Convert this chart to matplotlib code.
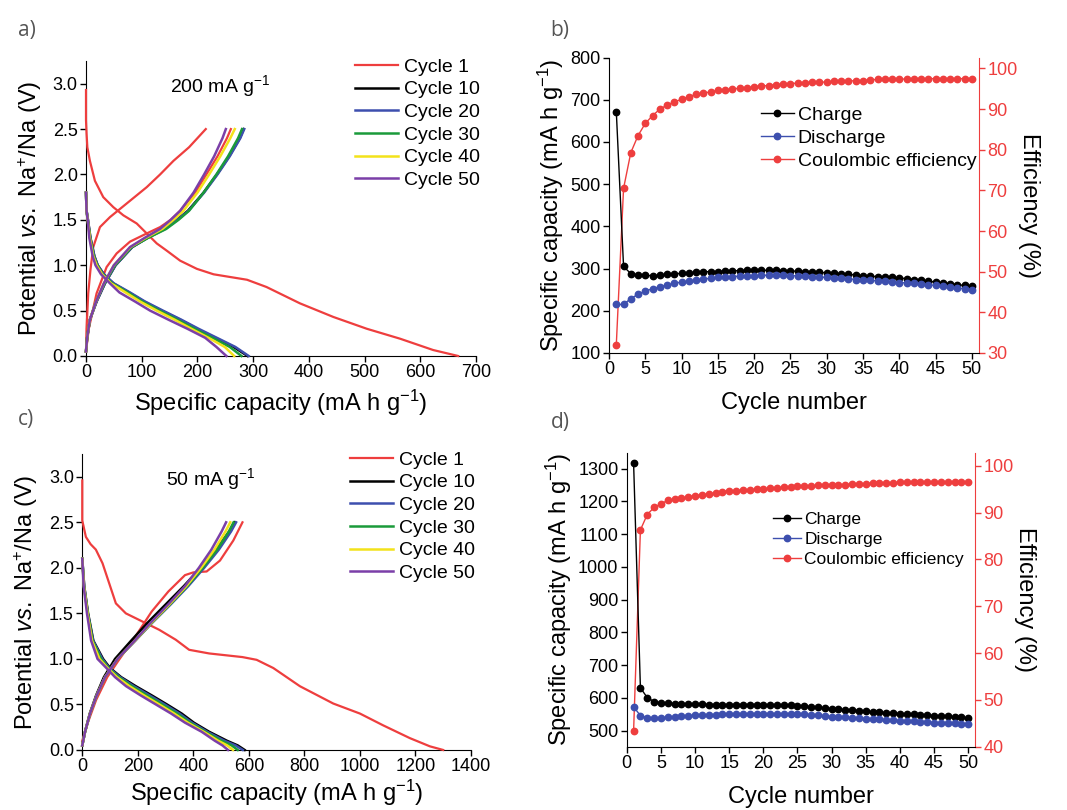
import matplotlib
matplotlib.use("Agg")
import matplotlib.pyplot as plt
import numpy as np

plt.rcParams["font.family"] = ["Liberation Sans", "DejaVu Sans"]
plt.rcParams["mathtext.fontset"] = "custom"
plt.rcParams["mathtext.rm"] = "Liberation Sans"
plt.rcParams["mathtext.it"] = "Liberation Sans:italic"

RED = "#ee3e3e"
COLORS = {10: "black", 20: "#3d4fae", 30: "#1a9a3a", 40: "#f3e21a", 50: "#7b3fa8"}
CYCLES = [10, 20, 30, 40, 50]

# ---------------- panel a, 200 mA g-1 ----------------
a_c1_dis_x = [0, 0, 1, 2.4, 7, 16, 31, 49, 67, 91, 109, 127, 145, 169, 199, 229, 289, 324, 384, 444, 504, 564, 623, 668]
a_c1_dis_y = [2.93, 2.6, 2.45, 2.3, 2.15, 1.93, 1.75, 1.64, 1.55, 1.46, 1.35, 1.24, 1.16, 1.05, 0.96, 0.9, 0.84, 0.76, 0.58, 0.43, 0.30, 0.19, 0.066, 0.0]
a_c1_ch_x = [0, 1, 4, 8, 13, 25, 43, 61, 85, 109, 133, 157, 185, 215]
a_c1_ch_y = [0.05, 0.3, 0.69, 0.95, 1.2, 1.42, 1.53, 1.62, 1.74, 1.86, 2.0, 2.15, 2.3, 2.5]
a_c2_ch_x = [0, 5, 19, 37, 55, 79, 109, 133, 152, 169, 196, 216, 236, 253, 260]
a_c2_ch_y = [0.05, 0.3, 0.69, 0.98, 1.13, 1.26, 1.35, 1.42, 1.5, 1.6, 1.8, 2.0, 2.2, 2.4, 2.5]

a_dis_v = [1.8, 1.6, 1.5, 1.3, 1.1, 1.0, 0.9, 0.8, 0.7, 0.6, 0.5, 0.4, 0.3, 0.2, 0.1, 0.0]
a_dis_cap = {
    10: [0, 1, 3.5, 8, 15, 21, 32, 49, 77, 104, 136, 169, 199, 232, 265, 290],
    20: [0, 1, 3.5, 8, 15, 21, 32, 50, 79, 106, 138, 171, 202, 235, 268, 292],
    30: [0, 1, 3, 7.5, 14, 20, 30, 47, 75, 101, 132, 164, 195, 227, 258, 279],
    40: [0, 1, 3, 7, 13, 19, 29, 45, 71, 97, 127, 159, 189, 220, 249, 266],
    50: [0, 1, 3, 6, 12, 17, 27, 43, 60, 88, 115, 148, 182, 214, 234, 252],
}
a_ch_v = [0.05, 0.2, 0.4, 0.6, 0.8, 1.0, 1.2, 1.3, 1.4, 1.5, 1.6, 1.8, 2.0, 2.2, 2.4, 2.5]
a_ch_cap = {
    10: [0, 2, 7, 19, 34, 53, 83, 110, 141, 163, 183, 211, 235, 257, 276, 283],
    20: [0, 2, 7, 19, 34, 53, 83, 110, 142, 164, 184, 212, 236, 258, 277, 284],
    30: [0, 2, 7, 18, 33, 52, 82, 111, 144, 166, 185, 211, 234, 255, 273, 280],
    40: [0, 2, 7, 18, 32, 50, 80, 107, 137, 157, 175, 200, 221, 241, 259, 267],
    50: [0, 2, 7, 18, 32, 50, 79, 105, 133, 152, 169, 193, 212, 230, 245, 251],
}

# ---------------- panel c, 50 mA g-1 ----------------
c_c1_dis_x = [0, 0, 13, 30, 49, 73, 97, 121, 157, 217, 277, 337, 385, 457, 577, 628, 688, 784, 904, 1000, 1084, 1180, 1252, 1300]
c_c1_dis_y = [2.96, 2.52, 2.34, 2.26, 2.2, 2.05, 1.83, 1.61, 1.5, 1.41, 1.32, 1.21, 1.1, 1.06, 1.02, 0.99, 0.9, 0.7, 0.51, 0.40, 0.27, 0.13, 0.04, 0.0]
c_c1_ch_x = [0, 20, 50, 90, 130, 190, 250, 310, 370, 400, 448, 496, 544, 577]
c_c1_ch_y = [0.1, 0.3, 0.55, 0.8, 0.98, 1.24, 1.52, 1.74, 1.92, 1.95, 1.96, 2.08, 2.3, 2.5]

c_dis_v = [2.1, 1.8, 1.5, 1.2, 1.0, 0.9, 0.8, 0.7, 0.6, 0.5, 0.4, 0.3, 0.2, 0.1, 0.05, 0.0]
c_dis_cap = {
    10: [0, 7, 21, 40, 75, 100, 140, 193, 250, 305, 358, 402, 457, 522, 560, 585],
    20: [0, 7, 20, 39, 72, 97, 136, 186, 242, 297, 350, 395, 450, 513, 552, 578],
    30: [0, 6, 20, 37, 68, 94, 131, 179, 233, 288, 342, 388, 443, 502, 538, 560],
    40: [0, 6, 19, 35, 62, 91, 125, 170, 222, 277, 331, 380, 437, 490, 522, 543],
    50: [0, 5, 17, 32, 55, 87, 118, 158, 210, 265, 320, 370, 430, 478, 505, 525],
}
c_ch_v = [0.05, 0.2, 0.4, 0.6, 0.8, 1.0, 1.2, 1.4, 1.6, 1.8, 2.0, 2.2, 2.4, 2.5]
c_ch_cap = {
    10: [0, 10, 27, 50, 78, 118, 176, 236, 301, 366, 426, 481, 530, 549],
    20: [0, 10, 28, 52, 82, 127, 191, 253, 319, 382, 439, 492, 536, 554],
    30: [0, 10, 28, 52, 82, 127, 190, 251, 316, 378, 434, 486, 528, 545],
    40: [0, 10, 28, 52, 82, 127, 190, 250, 314, 375, 428, 476, 516, 533],
    50: [0, 10, 28, 52, 82, 127, 189, 247, 310, 370, 420, 465, 502, 518],
}

# ---------------- panel b, cycling at 200 mA g-1 ----------------
cycle_no = list(range(1, 51))
b_charge = [672, 305, 288, 285, 284, 283, 284, 286, 287, 289, 290, 291, 292, 293, 293, 294, 295, 295, 296, 296,
            296, 296, 296, 295, 294, 294, 293, 292, 291, 290, 289, 288, 286, 285, 283, 282, 281, 280, 279, 278,
            276, 274, 272, 270, 268, 266, 264, 262, 260, 258]
b_discharge = [215, 215, 229, 239, 247, 252, 257, 261, 265, 268, 270, 273, 275, 277, 279, 280, 281, 282, 283, 283,
               284, 284, 284, 284, 283, 283, 282, 281, 280, 279, 278, 277, 276, 274, 273, 272, 271, 270, 269, 267,
               266, 265, 263, 262, 260, 258, 256, 254, 252, 250]
b_ce = [32.0, 70.5, 79.3, 83.5, 86.5, 88.4, 90.0, 91.0, 91.8, 92.4, 93.1, 93.6, 94.0, 94.2, 94.6, 94.7, 95.0, 95.1,
        95.2, 95.5, 95.7, 95.8, 96.0, 96.1, 96.3, 96.4, 96.5, 96.6, 96.6, 96.7, 96.8, 96.8, 96.9, 97.0, 97.0, 97.2,
        97.3, 97.3, 97.3, 97.4, 97.4, 97.4, 97.4, 97.5, 97.5, 97.5, 97.5, 97.5, 97.5, 97.5]

# ---------------- panel d, cycling at 50 mA g-1 ----------------
d_charge = [1318, 631, 601, 589, 585, 584, 583, 583, 582, 581, 581, 580, 580, 580, 580, 580, 580, 580, 580, 580,
            579, 579, 578, 577, 576, 575, 573, 571, 569, 567, 565, 564, 563, 561, 559, 558, 557, 555, 554, 552,
            551, 550, 549, 548, 546, 545, 544, 542, 541, 539]
d_discharge = [573, 546, 540, 538, 540, 541, 543, 545, 546, 547, 548, 549, 549, 550, 550, 551, 551, 552, 552, 552,
               552, 552, 552, 552, 551, 550, 549, 547, 545, 543, 542, 541, 540, 538, 537, 536, 535, 533, 532, 531,
               530, 529, 527, 526, 525, 524, 523, 522, 521, 520]
d_ce = [43.3, 86.3, 89.6, 91.1, 91.9, 92.6, 92.9, 93.1, 93.4, 93.6, 93.8, 94.0, 94.2, 94.5, 94.7, 94.7, 94.8, 94.9,
        95.0, 95.1, 95.2, 95.3, 95.4, 95.5, 95.6, 95.6, 95.7, 95.8, 95.8, 95.9, 95.9, 96.0, 96.1, 96.1, 96.2, 96.3,
        96.3, 96.4, 96.4, 96.5, 96.5, 96.6, 96.6, 96.5, 96.5, 96.5, 96.5, 96.5, 96.6, 96.6]

TICK_FS = 13
LABEL_FS = 17
LEG_FS = 14


def style_axis(ax):
    ax.spines["top"].set_visible(False)
    ax.tick_params(direction="out", length=4, width=1, labelsize=TICK_FS, pad=2)


def voltage_panel(ax, c1_dis, c1_ch, extra_red, dis_v, dis_cap, ch_v, ch_cap, xmax, xstep, rate_text, xpad):
    style_axis(ax)
    ax.spines["right"].set_visible(False)
    ax.plot(c1_dis[0], c1_dis[1], color=RED, lw=1.6, label="Cycle 1", zorder=3, clip_on=False)
    ax.plot(c1_ch[0], c1_ch[1], color=RED, lw=1.6, zorder=3, clip_on=False)
    if extra_red is not None:
        ax.plot(extra_red[0], extra_red[1], color=RED, lw=1.6, zorder=3, clip_on=False)
    for cyc in CYCLES:
        ax.plot(dis_cap[cyc], dis_v, color=COLORS[cyc], lw=1.8, label=f"Cycle {cyc}", zorder=3, clip_on=False)
        ax.plot(ch_cap[cyc], ch_v, color=COLORS[cyc], lw=1.8, zorder=3, clip_on=False)
    ax.set_xlim(0, xmax)
    ax.set_ylim(0, 3.25)
    ax.set_xticks(np.arange(0, xmax + 1, xstep))
    ax.set_yticks(np.arange(0, 3.01, 0.5))
    ax.yaxis.set_major_formatter(matplotlib.ticker.FormatStrFormatter("%.1f"))
    ax.set_xlabel(r"Specific capacity (mA h g$^{-1}$)", fontsize=LABEL_FS, labelpad=xpad)
    ax.set_ylabel(r"Potential $\it{vs.}$ Na$^{+}$/Na (V)", fontsize=LABEL_FS, labelpad=6)
    ax.text(0.215, 0.915, rate_text, transform=ax.transAxes, fontsize=LEG_FS, va="center")
    ax.legend(loc="upper left", bbox_to_anchor=(0.69, 1.01), frameon=False, fontsize=LEG_FS,
              handlelength=2.2, handletextpad=0.3, labelspacing=0.26, borderpad=0, borderaxespad=0)


def cycling_panel(ax, charge, discharge, ce, ylim, yticks, ce_ylim, ce_ticks, leg_anchor, leg_fs, leg_hl):
    style_axis(ax)
    ax.spines["right"].set_visible(False)
    l1, = ax.plot(cycle_no, charge, color="black", lw=1, marker="o", ms=4.6, label="Charge")
    l2, = ax.plot(cycle_no, discharge, color="#3d4fae", lw=1, marker="o", ms=4.6, label="Discharge")
    ax.set_xlim(0, 51)
    ax.set_xticks(np.arange(0, 51, 5))
    ax.set_ylim(*ylim)
    ax.set_yticks(yticks)
    ax.set_xlabel("Cycle number", fontsize=LABEL_FS, labelpad=10)
    ax.set_ylabel(r"Specific capacity (mA h g$^{-1}$)", fontsize=LABEL_FS, labelpad=3)

    ax2 = ax.twinx()
    ax2.spines["top"].set_visible(False)
    ax2.spines["left"].set_visible(False)
    ax2.spines["bottom"].set_visible(False)
    ax2.spines["right"].set_color(RED)
    l3, = ax2.plot(cycle_no, ce, color=RED, lw=1, marker="o", ms=4.6, label="Coulombic efficiency")
    ax2.set_ylim(*ce_ylim)
    ax2.set_yticks(ce_ticks)
    ax2.tick_params(direction="out", length=4, width=1, labelsize=TICK_FS, pad=2, colors=RED)
    ax2.set_ylabel("Efficiency (%)", fontsize=LABEL_FS, rotation=270, labelpad=16)
    ax.set_zorder(ax2.get_zorder() + 1)
    ax.patch.set_visible(False)
    ax.legend(handles=[l1, l2, l3], loc="upper left", bbox_to_anchor=leg_anchor, frameon=False,
              fontsize=leg_fs, handlelength=leg_hl, handletextpad=0.2, labelspacing=0.28,
              borderpad=0, borderaxespad=0)


fig = plt.figure(figsize=(10.67, 8.10), dpi=100)
ax_a = fig.add_axes([0.0806, 0.5605, 0.3655, 0.3642])
ax_b = fig.add_axes([0.5708, 0.5642, 0.3468, 0.3648])
ax_c = fig.add_axes([0.0771, 0.0741, 0.3643, 0.3654])
ax_d = fig.add_axes([0.5874, 0.0781, 0.3264, 0.3630])

voltage_panel(ax_a, (a_c1_dis_x, a_c1_dis_y), (a_c1_ch_x, a_c1_ch_y), (a_c2_ch_x, a_c2_ch_y),
              a_dis_v, a_dis_cap, a_ch_v, a_ch_cap, 700, 100, r"200 mA g$^{-1}$", 5)
voltage_panel(ax_c, (c_c1_dis_x, c_c1_dis_y), (c_c1_ch_x, c_c1_ch_y), None,
              c_dis_v, c_dis_cap, c_ch_v, c_ch_cap, 1400, 200, r"50 mA g$^{-1}$", 2)
cycling_panel(ax_b, b_charge, b_discharge, b_ce, (100, 800), np.arange(100, 801, 100),
              (30, 102.7), np.arange(30, 101, 10), (0.41, 0.835), 14, 1.7)
cycling_panel(ax_d, d_charge, d_discharge, d_ce, (451, 1349), np.arange(500, 1301, 100),
              (40, 102.8), np.arange(40, 101, 10), (0.42, 0.80), 12.5, 1.6)

for txt, x, y in [("a)", 0.017, 0.962), ("b)", 0.516, 0.962), ("c)", 0.017, 0.482), ("d)", 0.516, 0.478)]:
    fig.text(x, y, txt, fontsize=15, color="#555555", family=["Open Sans", "DejaVu Sans"], va="center")

fig.savefig("out.png", dpi=100)
